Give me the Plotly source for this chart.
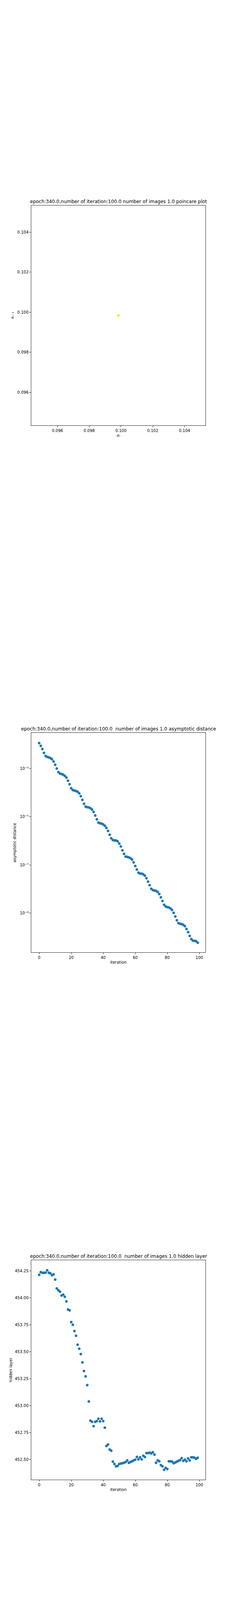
import plotly.graph_objects as go

# poincare plot: x_t vs x_{t-1} (all iterates sit on the fixed point)
poincare_xt = [0.09984]
poincare_xt_prev = [0.09984]

iterations = list(range(100))

asymptotic_distance = [
    1.12e-2, 8.61e-3, 6.38e-3, 4.40e-3, 3.27e-3, 2.99e-3, 2.88e-3, 2.67e-3, 2.42e-3, 1.93e-3,
    1.42e-3, 9.89e-4, 7.06e-4, 6.08e-4, 5.86e-4, 5.51e-4, 4.92e-4, 4.19e-4, 3.10e-4, 2.22e-4,
    1.51e-4, 1.27e-4, 1.21e-4, 1.16e-4, 1.08e-4, 9.29e-5, 7.06e-5, 4.98e-5, 3.43e-5, 2.61e-5,
    2.48e-5, 2.42e-5, 2.24e-5, 1.98e-5, 1.58e-5, 1.12e-5, 7.80e-6, 5.64e-6, 5.37e-6, 5.13e-6,
    4.79e-6, 4.19e-6, 3.43e-6, 2.57e-6, 1.79e-6, 1.28e-6, 1.08e-6, 1.04e-6, 1.03e-6, 9.51e-7,
    7.69e-7, 5.86e-7, 4.03e-7, 2.88e-7, 2.22e-7, 2.16e-7, 2.06e-7, 1.91e-7, 1.67e-7, 1.28e-7,
    9.06e-8, 6.47e-8, 4.80e-8, 4.40e-8, 4.35e-8, 4.08e-8, 3.61e-8, 2.81e-8, 2.03e-8, 1.45e-8,
    1.03e-8, 9.06e-9, 8.73e-9, 8.39e-9, 7.60e-9, 6.24e-9, 4.56e-9, 3.22e-9, 2.24e-9, 1.91e-9,
    1.79e-9, 1.73e-9, 1.58e-9, 1.36e-9, 1.03e-9, 7.33e-10, 5.11e-10, 3.88e-10, 3.65e-10, 3.52e-10,
    3.30e-10, 2.92e-10, 2.22e-10, 1.64e-10, 1.15e-10, 8.51e-11, 7.33e-11, 7.14e-11, 6.89e-11, 6.00e-11,
]

hidden_layer = [
    454.215, 454.240, 454.234, 454.233, 454.235, 454.257, 454.234, 454.229, 454.211, 454.219,
    454.171, 454.088, 454.071, 454.058, 454.023, 454.031, 454.011, 453.968, 453.893, 453.885,
    453.776, 453.751, 453.693, 453.649, 453.566, 453.529, 453.479, 453.402, 453.322, 453.272,
    453.191, 453.039, 452.861, 452.850, 452.810, 452.850, 452.857, 452.879, 452.854, 452.879,
    452.857, 452.796, 452.626, 452.640, 452.593, 452.582, 452.481, 452.459, 452.437, 452.441,
    452.459, 452.463, 452.466, 452.470, 452.477, 452.492, 452.470, 452.477, 452.484, 452.492,
    452.499, 452.524, 452.502, 452.521, 452.502, 452.535, 452.524, 452.560, 452.560, 452.564,
    452.557, 452.568, 452.546, 452.470, 452.492, 452.484, 452.448, 452.437, 452.405, 452.423,
    452.412, 452.484, 452.484, 452.481, 452.466, 452.473, 452.481, 452.488, 452.495, 452.513,
    452.488, 452.499, 452.484, 452.510, 452.492, 452.521, 452.521, 452.517, 452.506, 452.517,
]

log_ticks = [1e-3, 1e-5, 1e-7, 1e-9]
log_tick_text = ["10\u207b\u00b3", "10\u207b\u2075", "10\u207b\u2077", "10\u207b\u2079"]

titles = [
    "epoch:340.0,number of iteration:100.0 number of images 1.0 poincare plot",
    "epoch:340.0,number of iteration:100.0  number of images 1.0 asymptotic distance",
    "epoch:340.0,number of iteration:100.0  number of images 1.0 hidden layer",
]

H = 4320.0
FONT = "DejaVu Sans"
BLUE = "#1f77b4"


def py(px):
    return 1 - px / H


fig = go.Figure()

fig.add_trace(go.Scatter(
    x=poincare_xt, y=poincare_xt_prev, mode="markers",
    marker=dict(color="#fde725", size=6, line=dict(color="#fde725", width=1)),
    xaxis="x", yaxis="y", showlegend=False,
))
fig.add_trace(go.Scatter(
    x=iterations, y=asymptotic_distance, mode="markers",
    marker=dict(color=BLUE, size=6, line=dict(color=BLUE, width=1)),
    xaxis="x2", yaxis="y2", showlegend=False,
))
fig.add_trace(go.Scatter(
    x=iterations, y=hidden_layer, mode="markers",
    marker=dict(color=BLUE, size=6, line=dict(color=BLUE, width=1)),
    xaxis="x3", yaxis="y3", showlegend=False,
))

axis_style = dict(
    showline=True, linecolor="#222222", linewidth=1, mirror=True,
    ticks="outside", ticklen=4, tickcolor="#222222", tickwidth=1,
    showgrid=False, zeroline=False,
    tickfont=dict(family=FONT, size=10, color="#000000"),
)

boxes = [(518.3, 1081.0), (1868.3, 2430.3), (3218.3, 3780.3)]

v = poincare_xt[0]
half = 0.00549
fig.update_layout(
    width=576, height=4320, autosize=False,
    margin=dict(l=0, r=0, t=0, b=0),
    paper_bgcolor="white", plot_bgcolor="white",
    font=dict(family=FONT, size=10, color="#000000"),
    xaxis=dict(domain=[0.125, 0.9], anchor="y", range=[v - half, v + half],
               tickvals=[0.096, 0.098, 0.100, 0.102, 0.104], tickformat=".3f", **axis_style),
    yaxis=dict(domain=[py(boxes[0][1]), py(boxes[0][0])], anchor="x", range=[v - half, v + half],
               tickvals=[0.096, 0.098, 0.100, 0.102, 0.104], tickformat=".3f", **axis_style),
    xaxis2=dict(domain=[0.125, 0.9], anchor="y2", range=[-4.95, 103.95],
                tickvals=[0, 20, 40, 60, 80, 100], **axis_style),
    yaxis2=dict(domain=[py(boxes[1][1]), py(boxes[1][0])], anchor="x2", type="log",
                range=[-10.626, -1.529], tickmode="array", tickvals=log_ticks,
                ticktext=log_tick_text, **axis_style),
    xaxis3=dict(domain=[0.125, 0.9], anchor="y3", range=[-4.95, 103.95],
                tickvals=[0, 20, 40, 60, 80, 100], **axis_style),
    yaxis3=dict(domain=[py(boxes[2][1]), py(boxes[2][0])], anchor="x3", range=[452.312, 454.350],
                tickvals=[452.50, 452.75, 453.00, 453.25, 453.50, 453.75, 454.00, 454.25],
                tickformat=".2f", **axis_style),
)

annotations = []
title_y = [507.7, 1857.7, 3207.7]
for t, yy in zip(titles, title_y):
    annotations.append(dict(text=t, x=0.5125, y=py(yy), xref="paper", yref="paper",
                            xanchor="center", yanchor="middle", showarrow=False,
                            font=dict(family=FONT, size=12, color="#000000")))

xlabels = [("x\u209c", "italic", 1106.7), ("iteration", "normal", 2455.3), ("iteration", "normal", 3805.0)]
for t, st, yy in xlabels:
    annotations.append(dict(text=t, x=0.5125, y=py(yy), xref="paper", yref="paper",
                            xanchor="center", yanchor="middle", showarrow=False,
                            font=dict(family=FONT, size=10, color="#000000", style=st)))

ylabels = [("x\u209c\u208b\u2081", "italic", 23.9, 799.7),
           ("asymptotic distance", "normal", 29.4, 2149.3),
           ("hidden layer", "normal", 19.1, 3499.3)]
for t, st, xx, yy in ylabels:
    annotations.append(dict(text=t, x=xx / 576, y=py(yy), xref="paper", yref="paper",
                            xanchor="center", yanchor="middle", textangle=-90, showarrow=False,
                            font=dict(family=FONT, size=10, color="#000000", style=st)))

fig.update_layout(annotations=annotations)

fig.write_html("out.html")
